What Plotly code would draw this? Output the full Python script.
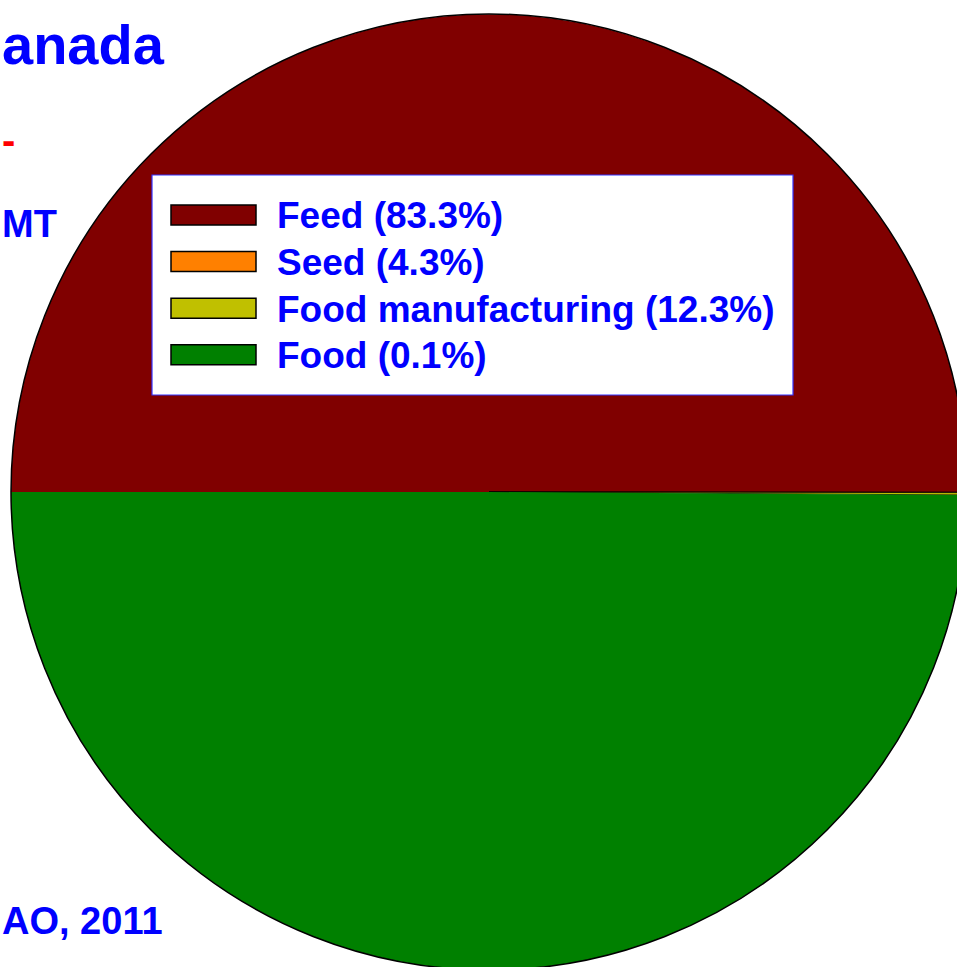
import plotly.graph_objects as go

# Key entries as printed, with the share quoted for each use
categories = ["Feed (83.3%)", "Seed (4.3%)", "Food manufacturing (12.3%)", "Food (0.1%)"]
# Slice sizes as they appear on the disc
slice_values = [50.0, 0.02, 0.08, 49.9]
slice_colors = ["#800000", "#ff8000", "#c0c000", "#008000"]

# Side texts
title_text = "anada"
period_text = "-"
unit_text = "MT"
source_text = "AO, 2011"

# Canvas is a little larger than the viewport so the disc can run off the edge
W, H = 990, 990


def px(x):
    return x / W


def py(y):
    return 1 - y / H


# Disc geometry (pixels)
cx, cy, r = 489, 492, 478

fig = go.Figure()
fig.add_trace(go.Pie(
    labels=categories,
    values=slice_values,
    sort=False,
    direction="clockwise",
    rotation=270,
    marker=dict(colors=slice_colors,
                line=dict(color="black", width=[0, 0.8, 0.8, 0])),
    textinfo="none",
    hoverinfo="label",
    showlegend=False,
    domain=dict(x=[px(cx - r), px(cx + r)], y=[py(cy + r), py(cy - r)]),
))

shapes = [
    # outer rim of the disc
    dict(type="circle", xref="paper", yref="paper",
         x0=px(cx - r), x1=px(cx + r), y0=py(cy + r), y1=py(cy - r),
         line=dict(color="black", width=1.5), fillcolor="rgba(0,0,0,0)", layer="above"),
    # key frame
    dict(type="rect", xref="paper", yref="paper",
         x0=px(152), x1=px(793), y0=py(395), y1=py(175),
         line=dict(color="#3333ff", width=1.2), fillcolor="white", layer="above"),
]

sans = "Liberation Sans, Arial, Helvetica, sans-serif"
annotations = []
row0, row_step = 215, 46.6
for i, (name, col) in enumerate(zip(categories, slice_colors)):
    yc = row0 + i * row_step
    shapes.append(dict(type="rect", xref="paper", yref="paper",
                       x0=px(171), x1=px(256), y0=py(yc + 10), y1=py(yc - 10),
                       line=dict(color="black", width=1.5), fillcolor=col, layer="above"))
    annotations.append(dict(text=name, xref="paper", yref="paper",
                            x=px(275), y=py(yc + 1), xanchor="left", yanchor="middle",
                            showarrow=False,
                            font=dict(family=sans, size=37, color="#0000ff", weight="bold")))

annotations += [
    dict(text=title_text, xref="paper", yref="paper", x=0, y=py(45),
         xanchor="left", yanchor="middle", showarrow=False,
         font=dict(family=sans, size=56, color="#0000ff", weight="bold")),
    dict(text=period_text, xref="paper", yref="paper", x=0, y=py(140),
         xanchor="left", yanchor="middle", showarrow=False,
         font=dict(family=sans, size=40, color="#ff0000", weight="bold")),
    dict(text=unit_text, xref="paper", yref="paper", x=0, y=py(224),
         xanchor="left", yanchor="middle", showarrow=False,
         font=dict(family=sans, size=38, color="#0000ff", weight="bold")),
    dict(text=source_text, xref="paper", yref="paper", x=0, y=py(921),
         xanchor="left", yanchor="middle", showarrow=False,
         font=dict(family=sans, size=38, color="#0000ff", weight="bold")),
]

fig.update_layout(
    width=W, height=H,
    margin=dict(l=0, r=0, t=0, b=0),
    paper_bgcolor="white",
    plot_bgcolor="white",
    shapes=shapes,
    annotations=annotations,
)

fig.write_html(
    "out.html",
    post_script="document.documentElement.style.overflow='hidden';"
                "document.body.style.overflow='hidden';document.body.style.margin='0';",
)
